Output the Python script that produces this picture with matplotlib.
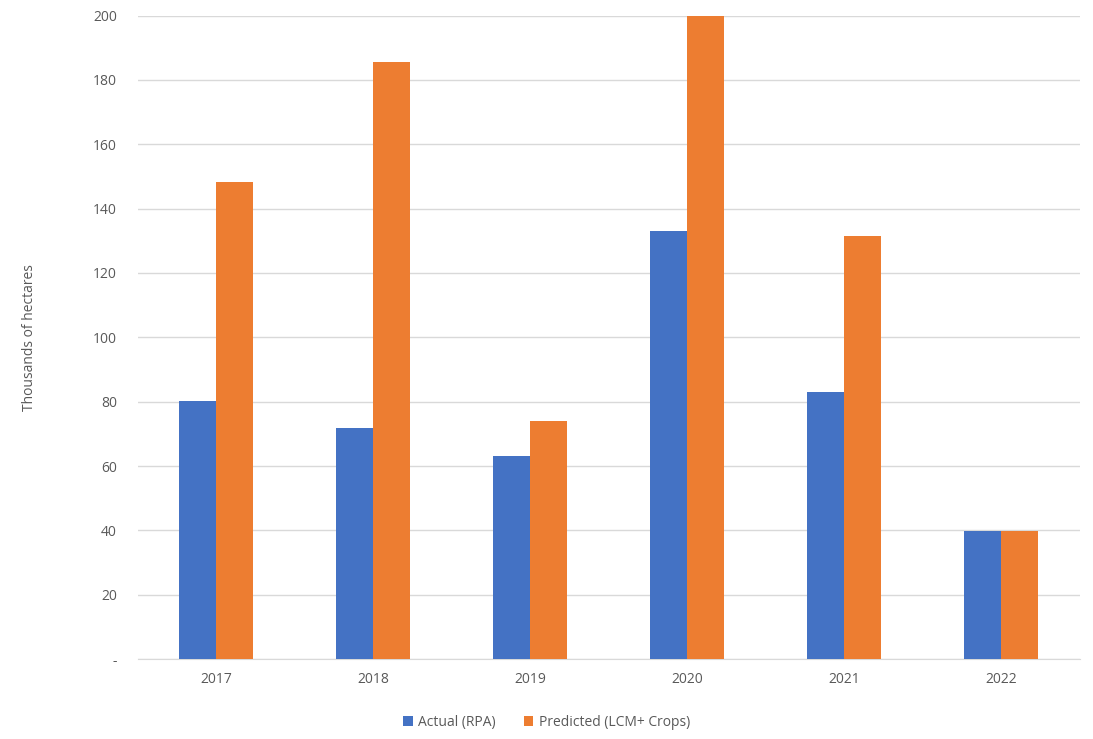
import matplotlib
matplotlib.use("Agg")
import matplotlib.pyplot as plt
import numpy as np

years = ["2017", "2018", "2019", "2020", "2021", "2022"]
actual = [80.2, 71.8, 63.1, 133.0, 83.0, 39.8]
predicted = [148.3, 185.5, 74.0, 200.0, 131.5, 39.8]
yticks = [0, 20, 40, 60, 80, 100, 120, 140, 160, 180, 200]
ytick_labels = ["-"] + [str(v) for v in yticks[1:]]

plt.rcParams["font.family"] = ["Open Sans", "DejaVu Sans"]
grey = "#595959"

fig = plt.figure(figsize=(10.93, 7.39), dpi=100)
ax = fig.add_axes([0.126, 0.108, 0.862, 0.871])

x = np.arange(len(years))
w = 0.236
ax.bar(x - w / 2, actual, w, color="#4472C4", label="Actual (RPA)", zorder=3)
ax.bar(x + w / 2, predicted, w, color="#ED7D31", label="Predicted (LCM+ Crops)", zorder=3)

ax.set_xlim(-0.5, len(years) - 0.5)
ax.set_ylim(0, 200)
ax.set_xticks(x)
ax.set_xticklabels(years)
ax.set_yticks(yticks)
ax.set_yticklabels(ytick_labels)
ax.tick_params(axis="both", length=0, labelsize=10, colors=grey)
ax.tick_params(axis="y", pad=15)
ax.tick_params(axis="x", pad=9)
ax.grid(axis="y", color="#d9d9d9", linewidth=1, zorder=0)
for s in ["top", "right", "left"]:
    ax.spines[s].set_visible(False)
ax.spines["bottom"].set_color("#d9d9d9")

ax.set_ylabel("Thousands of hectares", fontsize=10, color=grey, labelpad=40)

fig.legend(loc="lower center", bbox_to_anchor=(0.5, -0.005), ncol=2, frameon=False,
           fontsize=10, labelcolor=grey, handlelength=0.7, handleheight=0.7,
           handletextpad=0.4, columnspacing=2.0)

fig.savefig("out.png", dpi=100)
